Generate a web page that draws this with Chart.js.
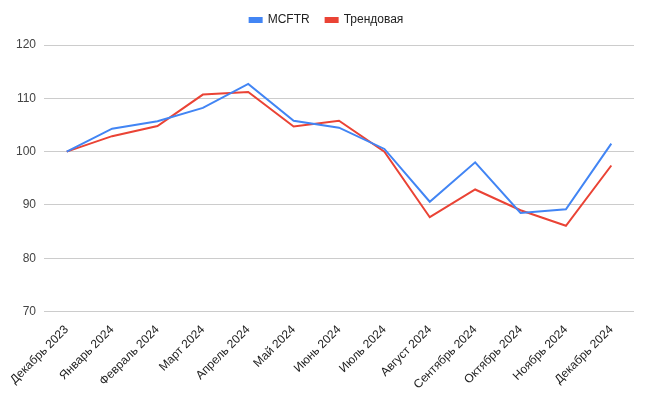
<!DOCTYPE html>
<html><head><meta charset="utf-8">
<script src="https://cdn.jsdelivr.net/npm/chart.js@4/dist/chart.umd.min.js"></script>
<style>html,body{margin:0;padding:0;background:#fff}#wrap{width:650px;height:394px}</style>
</head><body><div id="wrap"><canvas id="c"></canvas></div>
<script>
const categories = ["Декабрь 2023","Январь 2024","Февраль 2024","Март 2024","Апрель 2024","Май 2024","Июнь 2024","Июль 2024","Август 2024","Сентябрь 2024","Октябрь 2024","Ноябрь 2024","Декабрь 2024"];
const mcftr = [100, 104.3, 105.7, 108.2, 112.7, 105.8, 104.5, 100.5, 90.6, 98.0, 88.5, 89.2, 101.5];
const trend = [100, 102.9, 104.8, 110.7, 111.2, 104.7, 105.8, 100.0, 87.7, 92.9, 89.0, 86.1, 97.4];
const yTicks = [70, 80, 90, 100, 110, 120];

const legendSpacer = {
  id: 'legendSpacer',
  beforeInit(chart) {
    const origFit = chart.legend.fit;
    chart.legend.fit = function() { origFit.call(this); this.height += 9; };
  },
  afterLayout(chart) {
    chart.legend.left += 5;
    chart.legend.right += 6;
  }
};

new Chart(document.getElementById('c'), {
  type: 'line',
  plugins: [legendSpacer],
  data: {
    labels: categories,
    datasets: [
      {label: 'MCFTR', data: mcftr, borderColor: '#4285F4', backgroundColor: '#4285F4', borderWidth: 2, pointRadius: 0, tension: 0},
      {label: 'Трендовая', data: trend, borderColor: '#EA4335', backgroundColor: '#EA4335', borderWidth: 2, pointRadius: 0, tension: 0}
    ]
  },
  options: {
    responsive: true, maintainAspectRatio: false, animation: false,
    layout: {padding: {left: 8, right: 16, top: -2, bottom: -1}},
    plugins: {
      legend: {position: 'top', labels: {boxWidth: 12, boxHeight: 4, color: '#222', font: {family: 'Liberation Sans, Arial', size: 12}, padding: 16}},
      tooltip: {enabled: false}
    },
    scales: {
      x: {offset: true, grid: {display: false}, border: {display: false},
          ticks: {minRotation: 45, maxRotation: 45, color: '#222', font: {family: 'Liberation Sans, Arial', size: 12}, autoSkip: false}},
      y: {min: yTicks[0], max: yTicks[yTicks.length-1], border: {display: false},
          grid: {color: '#cccccc', drawTicks: false},
          afterBuildTicks: (ax) => { ax.ticks = yTicks.map(v => ({value: v})); },
          ticks: {padding: 8, color: '#444', font: {family: 'Liberation Sans, Arial', size: 12}}}
    }
  }
});
</script></body></html>
